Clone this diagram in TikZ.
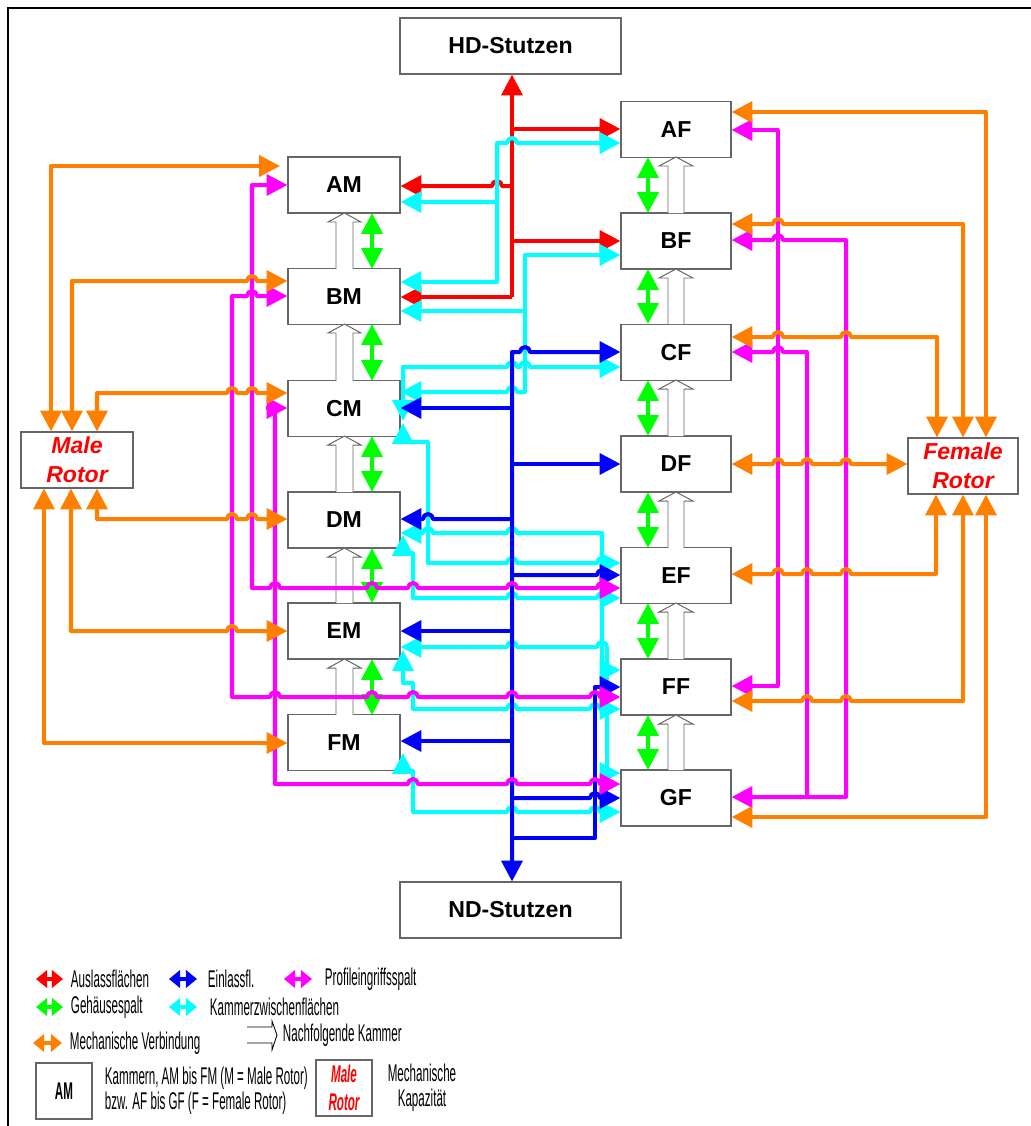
\documentclass[tikz,border=0pt]{standalone}
\usepackage{fontspec}
\setmainfont{Liberation Sans}
\newfontfamily\legfont[FakeStretch=0.48]{Liberation Sans}
\usetikzlibrary{arrows.meta}
\definecolor{cR}{RGB}{255,0,0}
\definecolor{cB}{RGB}{0,0,255}
\definecolor{cM}{RGB}{255,0,255}
\definecolor{cC}{RGB}{0,255,255}
\definecolor{cG}{RGB}{0,255,0}
\definecolor{cO}{RGB}{255,128,0}
\newcommand\hopr[2]{-- ({#1-5},#2) arc[start angle=180,end angle=0,radius=0.125cm]}
\newcommand\hopl[2]{-- ({#1+5},#2) arc[start angle=0,end angle=180,radius=0.125cm]}
\tikzset{
  bx/.style={draw=black!60, line width=0.8pt, fill=white, inner sep=0pt, minimum height=1.4cm,
    font=\fontsize{16.4}{19}\selectfont\bfseries},
  mbx/.style={bx, minimum width=2.8cm},
  fbx/.style={bx, minimum width=2.75cm},
  rot/.style={bx, text=red, align=center, font=\fontsize{16.4}{20.5}\selectfont\bfseries\itshape},
  ln/.style={line width=2.85pt, line join=round},
  rd/.style={ln, draw=cR},
  bl/.style={ln, draw=cB},
  mg/.style={ln, draw=cM},
  cy/.style={ln, draw=cC},
  gr/.style={ln, draw=cG},
  or/.style={ln, draw=cO},
  hol/.style={draw=black!60, line width=0.7pt, fill=white},
  legtip/.tip={Triangle[length=0.28cm,width=0.44cm]},
  lg/.style={anchor=west, font=\fontsize{17.2}{20}\selectfont\legfont},
}
\begin{document}
\begin{tikzpicture}[x=0.025cm,y=-0.025cm,>={Triangle[length=0.52cm,width=0.52cm]}]
\useasboundingbox (0,0) rectangle (1031,1126);
\draw[line width=2pt] (1031,8) -- (8,8) -- (8,1126);

% chambers
\node[bx, minimum width=5.525cm] (HD) at (510.5,46) {HD-Stutzen};
\node[bx, minimum width=5.525cm] (ND) at (510.5,910) {ND-Stutzen};
\node[mbx] (AM) at (344,185) {AM};
\node[mbx] (BM) at (344,296.5) {BM};
\node[mbx] (CM) at (344,408.5) {CM};
\node[mbx] (DM) at (344,520) {DM};
\node[mbx] (EM) at (344,631) {EM};
\node[mbx] (FM) at (344,742.5) {FM};
\node[fbx] (AF) at (676,129.5) {AF};
\node[fbx] (BF) at (676,241) {BF};
\node[fbx] (CF) at (676,352.5) {CF};
\node[fbx] (DF) at (676,464) {DF};
\node[fbx] (EF) at (676,575.5) {EF};
\node[fbx] (FF) at (676,687) {FF};
\node[fbx] (GF) at (676,798) {GF};
\node[rot, minimum width=2.8cm] (MR) at (77,460) {Male\\Rotor};
\node[rot, minimum width=2.75cm] (FR) at (963,466) {Female\\Rotor};

% successor chambers (hollow arrows) and housing gaps
\foreach \ub/\lt in {213/269,324/381,436/492,548/603,659/715}{
  \draw[hol] (336,\lt) -- (336,{\ub+9}) -- (328,{\ub+9}) -- (344.5,\ub) -- (361,{\ub+9}) -- (353,{\ub+9}) -- (353,\lt);
  \draw[gr,<->] (372,\ub) -- (372,\lt);
}
\foreach \ub/\lt in {157/213,269/324,380/436,492/548,603/659,715/770}{
  \draw[hol] (668,\lt) -- (668,{\ub+9}) -- (659,{\ub+9}) -- (676,\ub) -- (693,{\ub+9}) -- (684,{\ub+9}) -- (684,\lt);
  \draw[gr,<->] (648,\ub) -- (648,\lt);
}

% red: Auslassflaechen
\draw[rd,->] (512,297) -- (HD.south -| 512,0);
\draw[rd,->] (512,297) -- (BM.east |- 0,297);
\draw[rd,->] (512,129) -- (AF.west |- 0,129);
\draw[rd,->] (512,241) -- (BF.west |- 0,241);
\draw[rd,->] (512,186) \hopl{497}{186} -- (AM.east |- 0,186);

% cyan: Kammerzwischenflaechen
\draw[cy,<->] (AM.east |- 0,202) -- (497,202) -- (497,143) \hopr{512}{143} -- (AF.west |- 0,143);
\draw[cy,->] (497,202) -- (497,282) -- (BM.east |- 0,282);
\draw[cy,<->] (BM.east |- 0,311) -- (525,311) -- (525,255) -- (BF.west |- 0,255);
\draw[cy,->] (525,311) -- (525,392) \hopl{512}{392} -- (CM.east |- 0,392);
\draw[cy,<->] (CF.west |- 0,367) \hopl{525}{367} \hopl{512}{367} -- (403,367) -- (403,421);
\draw[cy,<->] (EF.west |- 0,563) \hopl{602}{563} \hopl{512}{563} -- (428,563) -- (428,442) -- (403,442) -- (403,423);
\draw[cy,<->] (EF.west |- 0,598) \hopl{602}{598} \hopl{512}{598} -- (413,598) -- (413,553) -- (403,553) -- (403,535);
\draw[cy,<->] (DM.east |- 0,533) \hopr{428}{533} \hopr{512}{533} -- (602,533) -- (602,670) -- (FF.west |- 0,670);
\draw[cy,<->] (EM.east |- 0,647) \hopr{512}{647} \hopr{602}{647} -- (607,773) -- (GF.west |- 0,773);
\draw[cy,<->] (FF.west |- 0,709) \hopl{595}{709} \hopl{512}{709} -- (413,709) -- (413,683) -- (403,683) -- (403,650);
\draw[cy,<->] (GF.west |- 0,812) \hopl{595}{812} \hopl{512}{812} -- (413,812) -- (413,771) -- (403,771) -- (403,753);

% blue: Einlassflaechen
\draw[bl,<->] (CF.west |- 0,352) \hopl{525}{352} -- (512,352) -- (ND.north -| 512,0);
\draw[bl,->] (512,408) -- (CM.east |- 0,408);
\draw[bl,->] (512,464) -- (DF.west |- 0,464);
\draw[bl,->] (512,519) \hopl{428}{519} -- (DM.east |- 0,519);
\draw[bl,->] (512,575) \hopr{602}{575} -- (EF.west |- 0,575);
\draw[bl,->] (512,631) -- (EM.east |- 0,631);
\draw[bl,->] (512,741) -- (FM.east |- 0,741);
\draw[bl,->] (512,838) -- (595,838) -- (595,687) -- (FF.west |- 0,687);
\draw[bl,->] (512,798) \hopr{595}{798} -- (GF.west |- 0,798);

% magenta: Profileingriffsspalt
\draw[mg,<->] (AM.west |- 0,185) -- (252,185) -- (252,588) \hopr{275}{588} \hopr{372}{588} \hopr{413}{588} \hopr{512}{588} \hopr{602}{588} -- (EF.west |- 0,588);
\draw[mg,<->] (BM.west |- 0,296) \hopl{252}{296} -- (232,296) -- (232,697) \hopr{275}{697} \hopr{372}{697} \hopr{413}{697} \hopr{512}{697} \hopr{595}{697} -- (FF.west |- 0,697);
\draw[mg,->] (275,408) -- (275,784) \hopr{413}{784} \hopr{512}{784} \hopr{595}{784} -- (GF.west |- 0,784);
\draw[mg,->] (266,408) -- (CM.west |- 0,408);
\draw[mg,<->] (AF.east |- 0,130) -- (778,130) -- (778,686) -- (FF.east |- 0,686);
\draw[mg,<->] (BF.east |- 0,240) \hopr{778}{240} -- (846,240) -- (846,797) -- (GF.east |- 0,797);
\draw[mg,<-] (CF.east |- 0,352) \hopr{778}{352} -- (807,352) -- (807,797);

% orange: Mechanische Verbindung
\draw[or,<->] (MR.north -| 51,0) -- (51,166) -- (280,166);
\draw[or,<->] (MR.north -| 72,0) -- (72,281) \hopr{252}{281} -- (BM.west |- 0,281);
\draw[or,<->] (MR.north -| 97,0) -- (97,393) \hopr{232}{393} \hopr{252}{393} -- (CM.west |- 0,393);
\draw[or,<->] (MR.south -| 97,0) -- (97,519) \hopr{232}{519} \hopr{252}{519} -- (DM.west |- 0,519);
\draw[or,<->] (MR.south -| 71,0) -- (71,631) \hopr{232}{631} -- (EM.west |- 0,631);
\draw[or,<->] (MR.south -| 44,0) -- (44,743) -- (FM.west |- 0,743);
\draw[or,<->] (AF.east |- 0,112) -- (986,112) -- (FR.north -| 986,0);
\draw[or,<->] (BF.east |- 0,224) \hopr{778}{224} -- (963,224) -- (FR.north -| 963,0);
\draw[or,<->] (CF.east |- 0,337) \hopr{778}{337} \hopr{846}{337} -- (937,337) -- (FR.north -| 937,0);
\draw[or,<->] (DF.east |- 0,464) \hopr{778}{464} \hopr{807}{464} \hopr{846}{464} -- (FR.west |- 0,464);
\draw[or,<->] (EF.east |- 0,574) \hopr{778}{574} \hopr{807}{574} \hopr{846}{574} -- (936,574) -- (FR.south -| 936,0);
\draw[or,<->] (FF.east |- 0,701) \hopr{807}{701} \hopr{846}{701} -- (963,701) -- (FR.south -| 963,0);
\draw[or,<->] (GF.east |- 0,817) -- (986,817) -- (FR.south -| 986,0);

% legend
\coordinate (l1a) at (36,979); \coordinate (l1b) at (63,979);
\draw[rd,legtip-legtip] (l1a) -- (l1b);
\node[lg] (t1) at (66,979) {Auslassflächen};
\coordinate (l2a) at (169,979); \coordinate (l2b) at (197,979);
\draw[bl,legtip-legtip] (l2a) -- (l2b);
\node[lg] (t2) at (203,979) {Einlassfl.};
\coordinate (l3a) at (284,979); \coordinate (l3b) at (312,979);
\draw[mg,legtip-legtip] (l3a) -- (l3b);
\node[lg] (t3) at (320,979) {Profileingriffsspalt};
\coordinate (l4a) at (36,1007); \coordinate (l4b) at (63,1007);
\draw[gr,legtip-legtip] (l4a) -- (l4b);
\node[lg] (t4) at (66,1007) {Gehäusespalt};
\coordinate (l5a) at (169,1007); \coordinate (l5b) at (197,1007);
\draw[cy,legtip-legtip] (l5a) -- (l5b);
\node[lg] (t5) at (205,1007) {Kammerzwischenflächen};
\coordinate (l6a) at (33,1043); \coordinate (l6b) at (62,1043);
\draw[or,legtip-legtip] (l6a) -- (l6b);
\node[lg] (t6) at (65,1043) {Mechanische Verbindung};
\draw[draw=black, line width=0.6pt] (247,1027) -- (272,1027) -- (272,1021) -- (277,1035) -- (272,1050) -- (272,1043) -- (247,1043);
\node[lg] (t7) at (278,1035) {Nachfolgende Kammer};
\node[draw=black!60, line width=0.8pt, minimum width=1.4cm, minimum height=1.4cm, inner sep=0pt,
  font=\fontsize{17.2}{20}\selectfont\legfont\bfseries] (lAM) at (64,1091) {AM};
\node[lg] (t8) at (100,1078) {Kammern, AM bis FM (M = Male Rotor)};
\node[lg] (t9) at (100,1103) {bzw. AF bis GF (F = Female Rotor)};
\node[draw=black!60, line width=0.8pt, minimum width=1.4cm, minimum height=1.4cm, inner sep=0pt, text=red, align=center,
  font=\fontsize{17.2}{20}\selectfont\legfont\bfseries\itshape] (lMR) at (344,1088) {Male\\Rotor};
\node[align=center, font=\fontsize{17.2}{17.8}\selectfont\legfont] (t10) at (422,1088) {Mechanische\\Kapazität};
\end{tikzpicture}
\end{document}
